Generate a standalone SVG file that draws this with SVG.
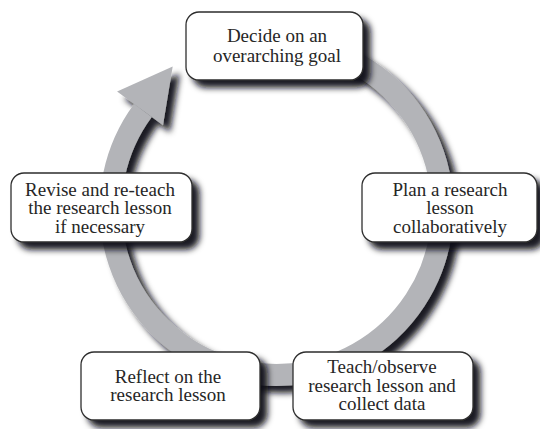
<svg xmlns="http://www.w3.org/2000/svg" width="540" height="429" viewBox="0 0 540 429">
<defs>
<style>
.box{fill:#ffffff;stroke:#2e2e2e;stroke-width:1.3;filter:url(#boxShadow)}
.lbl{font-family:"Liberation Serif","DejaVu Serif",serif;font-size:19px;fill:#262626;text-anchor:middle}
.band{fill:none;stroke:#b3b4b8;stroke-width:22}
</style>
<filter id="bandShadow" filterUnits="userSpaceOnUse" x="0" y="0" width="540" height="429">
<feDropShadow dx="7" dy="7" stdDeviation="3.2" flood-color="#101018" flood-opacity="0.95"/>
</filter>
<filter id="boxShadow" x="-20%" y="-30%" width="140%" height="170%">
<feDropShadow dx="7" dy="7" stdDeviation="3.2" flood-color="#101018" flood-opacity="0.95"/>
</filter>
</defs>
<rect width="540" height="429" fill="#ffffff"/>
<g id="connectors" filter="url(#bandShadow)">
<path class="band" d="M 262.0 43.6 A 166 166 0 1 1 142.9 110.5"/>
<polygon fill="#b3b4b8" points="117.1,91.5 172.7,66.6 163.0,125.3 142.9,110.5"/>
</g>
<g id="node-decide">
<rect class="box" x="186" y="12" width="177" height="68" rx="13"/>
<text class="lbl" x="277" y="41.5">Decide on an</text>
<text class="lbl" x="277" y="61.5">overarching goal</text>
</g>
<g id="node-plan">
<rect class="box" x="362" y="173" width="175" height="69" rx="13"/>
<text class="lbl" x="450" y="195.5">Plan a research</text>
<text class="lbl" x="450" y="214">lesson</text>
<text class="lbl" x="450" y="232.5">collaboratively</text>
</g>
<g id="node-teach">
<rect class="box" x="293" y="352" width="180" height="68" rx="13"/>
<text class="lbl" x="382" y="373.3">Teach/observe</text>
<text class="lbl" x="382" y="391.7">research lesson and</text>
<text class="lbl" x="382" y="410">collect data</text>
</g>
<g id="node-reflect">
<rect class="box" x="81" y="352" width="179" height="68" rx="13"/>
<text class="lbl" x="168" y="382.5">Reflect on the</text>
<text class="lbl" x="168" y="400.7">research lesson</text>
</g>
<g id="node-revise">
<rect class="box" x="11" y="173" width="181" height="69" rx="13"/>
<text class="lbl" x="100" y="196">Revise and re-teach</text>
<text class="lbl" x="100" y="214.3">the research lesson</text>
<text class="lbl" x="100" y="232.7">if necessary</text>
</g>
</svg>
